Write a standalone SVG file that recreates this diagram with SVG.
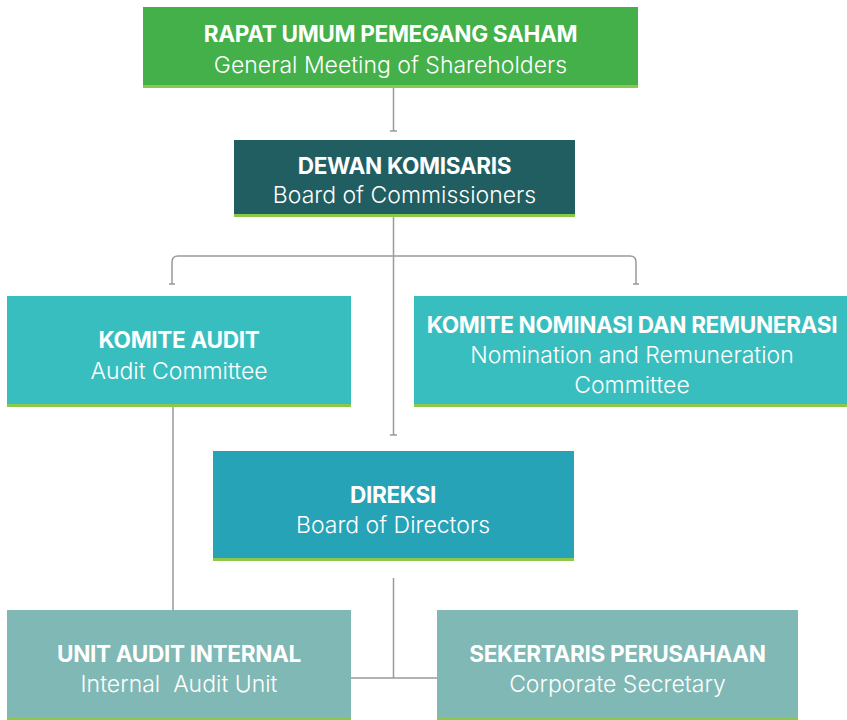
<svg xmlns="http://www.w3.org/2000/svg" width="847" height="720" viewBox="0 0 847 720">
<style>
.t{font-family:Inter,"Open Sans","Liberation Sans",sans-serif;font-weight:700;font-size:22.6px;fill:#fff;text-anchor:middle;letter-spacing:-0.35px}
.s{font-family:Inter,"Open Sans","Liberation Sans",sans-serif;font-weight:300;font-size:23px;fill:#fff;text-anchor:middle}
.stripe{fill:#8cc84b}
.c{fill:none;stroke:#9a9a9a;stroke-width:1.5}
</style>
<rect width="847" height="720" fill="#fff"/>
<g id="connectors">
<path class="c" d="M393.5 88V131M390 131H397"/>
<path class="c" d="M393.5 217V435M390 435H397"/>
<path class="c" d="M172 284V262Q172 256 178 256H630Q636 256 636 262V284M169 284H175M633 284H639"/>
<path class="c" d="M173 407V610"/>
<path class="c" d="M393.5 578V678M351 678H437"/>
</g>
<g id="rups">
<rect x="143" y="7" width="495" height="81" fill="#43b04a"/>
<rect class="stripe" x="143" y="85" width="495" height="3"/>
<text class="t" x="390.5" y="42">RAPAT UMUM PEMEGANG SAHAM</text>
<text class="s" x="390.5" y="73">General Meeting of Shareholders</text>
</g>
<g id="dewan-komisaris">
<rect x="234" y="140" width="341" height="77" fill="#215e62"/>
<rect class="stripe" x="234" y="214" width="341" height="3"/>
<text class="t" x="404.5" y="174">DEWAN KOMISARIS</text>
<text class="s" x="404.5" y="203">Board of Commissioners</text>
</g>
<g id="komite-audit">
<rect x="7" y="296" width="344" height="111" fill="#38bebe"/>
<rect class="stripe" x="7" y="404" width="344" height="3"/>
<text class="t" x="179" y="348">KOMITE AUDIT</text>
<text class="s" x="179" y="379">Audit Committee</text>
</g>
<g id="komite-nominasi">
<rect x="414" y="296" width="433" height="111" fill="#38bebe"/>
<rect class="stripe" x="414" y="404" width="433" height="3"/>
<text class="t" x="632" y="333">KOMITE NOMINASI DAN REMUNERASI</text>
<text class="s" x="632" y="363">Nomination and Remuneration</text>
<text class="s" x="632" y="393">Committee</text>
</g>
<g id="direksi">
<rect x="213" y="451" width="361" height="110" fill="#27a3b8"/>
<rect class="stripe" x="213" y="558" width="361" height="3"/>
<text class="t" x="393" y="503">DIREKSI</text>
<text class="s" x="393" y="533">Board of Directors</text>
</g>
<g id="unit-audit-internal">
<rect x="7" y="610" width="344" height="110" fill="#7fb8b4"/>
<rect class="stripe" x="7" y="717" width="344" height="3"/>
<text class="t" x="179" y="662">UNIT AUDIT INTERNAL</text>
<text class="s" x="179" y="692" style="white-space:pre">Internal  Audit Unit</text>
</g>
<g id="sekertaris-perusahaan">
<rect x="437" y="610" width="361" height="110" fill="#7fb8b4"/>
<rect class="stripe" x="437" y="717" width="361" height="3"/>
<text class="t" x="617.5" y="662">SEKERTARIS PERUSAHAAN</text>
<text class="s" x="617.5" y="692">Corporate Secretary</text>
</g>
</svg>
